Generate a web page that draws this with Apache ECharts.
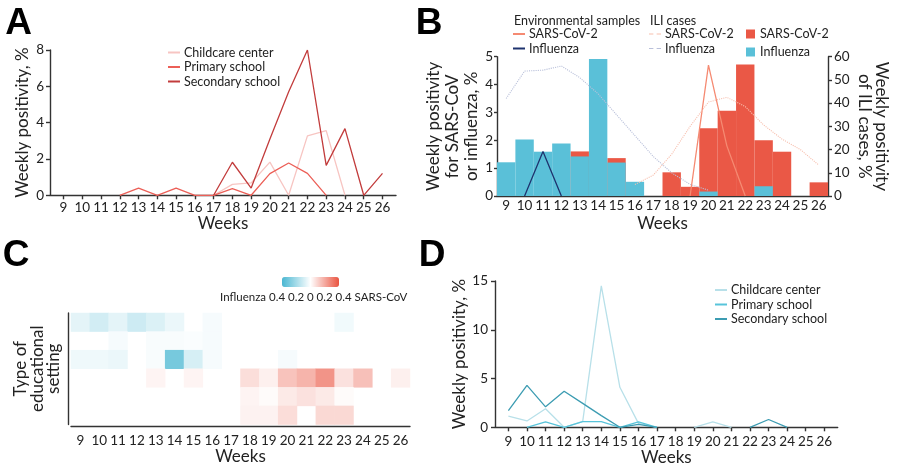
<!DOCTYPE html>
<html><head><meta charset="utf-8">
<script src="https://cdn.jsdelivr.net/npm/echarts@6/dist/echarts.min.js"></script>
<style>html,body{margin:0;padding:0;background:#fff}#c{width:900px;height:475px}</style>
</head><body><div id="c"></div>
<script>
// ---------- data ----------
const weeks = [9,10,11,12,13,14,15,16,17,18,19,20,21,22,23,24,25,26];
const weekLabels = weeks.map(String);

// Panel A: SARS-CoV-2 environmental positivity by setting (%)
const aChildcare = [null,null,null,null,null,null,null,null,0,0.6,0.68,1.83,0,3.27,3.56,0,null,null];
const aPrimary   = [null,null,null,0,0.4,0,0.4,0,0,0.37,0,1.19,1.78,1.21,0,null,null,null];
const aSecondary = [null,null,null,null,null,null,null,null,0,1.82,0.4,3.1,5.7,8.0,1.65,3.67,0,1.21];

// Panel B
const bBarSars = [null,null,null,null,1.6,null,1.36,null,null,0.85,0.33,2.43,3.06,4.72,2.0,1.59,null,0.49];
const bBarFlu  = [1.21,2.03,1.59,1.88,1.42,4.92,1.2,0.51,null,null,null,0.16,null,null,0.35,null,null,null];
const bEnvSars = [null,null,null,null,null,null,null,null,null,null,0,4.7,1.8,0,null,null,null,null];
const bEnvFlu  = [null,0,1.6,0,null,null,null,null,null,null,null,null,null,null,null,null,null,null];
const bIliSars = [null,null,null,null,null,null,null,5,9,18,30,40.5,42.5,38.5,30.6,24.5,20,13.3];
const bIliFlu  = [42,53.8,54.2,56,51,44,35,26,17,10,5,2.5,null,null,null,null,null,null];

// Panel C: heatmap rows (negative = influenza, positive = SARS-CoV)
const cRowNames = ['Row 1','Row 2','Row 3','Row 4','Row 5','Row 6'];
const cRow1 = [-0.06,-0.1,-0.06,-0.11,-0.08,-0.045,null,-0.02,null,null,null,null,null,null,-0.03,null,null,null];
const cRow2 = [null,null,-0.02,null,-0.015,-0.015,-0.01,-0.02,null,null,null,null,null,null,null,null,null,null];
const cRow3 = [-0.035,-0.035,-0.045,null,-0.015,-0.3,-0.09,-0.02,null,null,null,-0.02,null,null,null,null,null,null];
const cRow4 = [null,null,null,null,0.025,null,0.025,null,null,0.077,0.035,0.14,0.175,0.25,0.07,0.147,null,0.035];
const cRow5 = [null,null,null,null,null,null,null,null,null,0.025,0.01,0.05,0.07,0.05,0.01,null,null,null];
const cRow6 = [null,null,null,null,null,null,null,null,null,0.03,0.03,0.08,null,0.09,0.09,null,null,null];

// Panel D: influenza environmental positivity by setting (%)
const dChildcare = [1.15,0.65,1.9,0,0.6,14.5,4.1,0.4,0,null,0,0.55,0,null,null,null,null,null];
const dPrimary   = [null,0,0.55,0,0.58,0.58,0,0.55,0,null,null,null,null,null,null,null,null,null];
const dSecondary = [1.7,4.3,2.1,3.7,2.45,1.2,0,0.3,0,null,null,null,null,0,0.8,0,null,null];

const legendNames = {
  aChild:'Childcare center', aPrim:'Primary school', aSec:'Secondary school',
  dChild:'Childcare center', dPrim:'Primary school', dSec:'Secondary school',
  envSars:'SARS-CoV-2', envFlu:'Influenza', iliSars:'SARS-CoV-2', iliFlu:'Influenza',
  barSars:'SARS-CoV-2', barFlu:'Influenza'
};

// ---------- helpers ----------
const FONT = 'Lato';
const AX = {color:'#333', width:1.4};
const lbl = {color:'#222', fontSize:13.5, fontFamily:FONT};
const nm = {color:'#222', fontSize:17, fontFamily:FONT};
function pairs(arr){ return weeks.map((w,i)=> arr[i]==null ? [w,'-'] : [w,arr[i]]); }
function lineS(name, arr, color, xi, yi, extra){
  return Object.assign({type:'line', name, data: xi===1 ? arr.map(v=>v==null?'-':v) : pairs(arr),
    xAxisIndex:xi, yAxisIndex:yi, symbol:'none', smooth:false,
    lineStyle:{color, width:1.3}, itemStyle:{color}, emphasis:{disabled:true}}, extra||{});
}
function valueX(gi, margin, gap){
  return {type:'value', gridIndex:gi, min:8.28, max:26.72,
    axisLine:{show:true, onZero:false, lineStyle:AX},
    axisTick:{show:true, length:4, lineStyle:AX, customValues:weeks},
    axisLabel:Object.assign({margin:margin, customValues:weeks, formatter:v=>String(v)}, lbl),
    splitLine:{show:false},
    name:'Weeks', nameLocation:'middle', nameGap:gap, nameTextStyle:nm};
}
const heatData = [];
[cRow1,cRow2,cRow3,cRow4,cRow5,cRow6].forEach((row,r)=>row.forEach((v,i)=>{ if(v!=null) heatData.push([i,r,v]); }));

const legendBase = {orient:'vertical', itemGap:1.5, icon:'rect', itemWidth:12, itemHeight:2,
  formatter:n=>legendNames[n], textStyle:{fontSize:12.5, color:'#222', fontFamily:FONT, padding:[0,0,0,-1]},
  selectedMode:false, padding:0};
const letter = (t,x,y)=>({type:'text', x, y, style:{text:t, font:'bold 37px "Liberation Sans"', fill:'#000', align:'center', verticalAlign:'middle'}});

const option = {
  animation:false,
  textStyle:{fontFamily:FONT},
  grid:[
    {left:50, top:50, width:346, height:145.3},
    {left:497, top:56.7, width:331, height:139.3},
    {left:71, top:313, width:339, height:111.5},
    {left:495, top:281, width:342.7, height:146.3}
  ],
  xAxis:[
    valueX(0, 5, 18),
    {type:'category', gridIndex:1, data:weekLabels, boundaryGap:true,
     axisLine:{lineStyle:AX}, axisTick:{show:false}, axisLabel:Object.assign({margin:3, interval:0}, lbl),
     name:'Weeks', nameLocation:'middle', nameGap:19, nameTextStyle:nm},
    {type:'category', gridIndex:2, data:weekLabels, offset:2,
     axisLine:{lineStyle:AX}, axisTick:{show:false}, axisLabel:Object.assign({margin:7, interval:0}, lbl),
     name:'Weeks', nameLocation:'middle', nameGap:20, nameTextStyle:nm},
    valueX(3, 7, 21)
  ],
  yAxis:[
    {type:'value', gridIndex:0, min:0, max:8, interval:2,
     axisLine:{show:true, lineStyle:AX}, axisTick:{show:true, length:4, lineStyle:AX},
     axisLabel:Object.assign({margin:6}, lbl), splitLine:{show:false},
     name:'Weekly positivity, %', nameLocation:'middle', nameGap:19, nameTextStyle:nm},
    {type:'value', gridIndex:1, min:0, max:5, interval:1,
     axisLine:{show:true, lineStyle:AX}, axisTick:{show:true, length:3, lineStyle:AX},
     axisLabel:Object.assign({margin:4}, lbl), splitLine:{show:false},
     name:'Weekly positivity\nfor SARS-CoV\nor influenza, %', nameLocation:'middle', nameGap:15,
     nameTextStyle:Object.assign({lineHeight:19}, nm)},
    {type:'value', gridIndex:1, position:'right', min:0, max:60, interval:10,
     axisLine:{show:true, lineStyle:AX}, axisTick:{show:true, length:4, lineStyle:AX},
     axisLabel:Object.assign({margin:6}, lbl), splitLine:{show:false},
     name:'Weekly positivity\nof ILI cases, %', nameLocation:'middle', nameGap:28, nameRotate:-90,
     nameTextStyle:Object.assign({lineHeight:17}, nm)},
    {type:'category', gridIndex:2, data:cRowNames, inverse:true, offset:3,
     axisLine:{lineStyle:AX}, axisTick:{show:false}, axisLabel:{show:false},
     name:'Type of\neducational\nsetting', nameLocation:'middle', nameGap:6,
     nameTextStyle:Object.assign({lineHeight:16.5}, nm)},
    {type:'value', gridIndex:3, min:0, max:15, interval:5,
     axisLine:{show:true, lineStyle:AX}, axisTick:{show:true, length:4, lineStyle:AX},
     axisLabel:Object.assign({margin:7}, lbl), splitLine:{show:false},
     name:'Weekly positivity, %', nameLocation:'middle', nameGap:23, nameTextStyle:nm}
  ],
  legend:[
    Object.assign({}, legendBase, {left:168, top:46, data:['aChild','aPrim','aSec']}),
    Object.assign({}, legendBase, {left:513, top:27.5, data:['envSars','envFlu']}),
    Object.assign({}, legendBase, {left:649, top:27.5, data:['iliSars','iliFlu'],
      icon:'path://M0 0h4v1h-4z M7 0h4v1h-4z'}),
    Object.assign({}, legendBase, {left:746, top:27.5, data:['barSars','barFlu'], itemWidth:9, itemHeight:9, itemGap:5,
      textStyle:{fontSize:12.5, color:'#222', fontFamily:FONT}}),
    Object.assign({}, legendBase, {left:715, top:283.5, data:['dChild','dPrim','dSec']})
  ],
  visualMap:{type:'continuous', seriesIndex:9, min:-0.4, max:0.4, orient:'horizontal',
    left:282, top:277, itemWidth:10, itemHeight:57, calculable:false, hoverLink:false,
    showLabel:false, text:null, padding:0,
    inRange:{color:['#4ab7d2','#ffffff','#ea5440']}},
  graphic:[
    letter('A', 18.5, 23.5), letter('B', 429, 24), letter('C', 16, 255.5), letter('D', 432, 255.5),
    {type:'text', x:514, y:21, style:{text:'Environmental samples', font:'12.5px Lato', fill:'#222', verticalAlign:'middle'}},
    {type:'text', x:650, y:21, style:{text:'ILI cases', font:'12.5px Lato', fill:'#222', verticalAlign:'middle'}},
    {type:'text', x:220, y:297, style:{text:'Influenza 0.4 0.2 0 0.2 0.4 SARS-CoV', font:'11.5px Lato', fill:'#222', verticalAlign:'middle'}}
  ],
  series:[
    lineS('aChild', aChildcare, '#f7c5c2', 0, 0),
    lineS('aPrim', aPrimary, '#ec5f57', 0, 0),
    lineS('aSec', aSecondary, '#c23c3c', 0, 0),
    {type:'bar', name:'barSars', xAxisIndex:1, yAxisIndex:1, data:bBarSars.map(v=>v==null?'-':v),
     itemStyle:{color:'#ea5846'}, barCategoryGap:'0%', barGap:'-100%', emphasis:{disabled:true}},
    {type:'bar', name:'barFlu', xAxisIndex:1, yAxisIndex:1, data:bBarFlu.map(v=>v==null?'-':v),
     itemStyle:{color:'#5ac0d8'}, barCategoryGap:'0%', barGap:'-100%', emphasis:{disabled:true}},
    lineS('envSars', bEnvSars, '#f58a72', 1, 1),
    lineS('envFlu', bEnvFlu, '#1e336e', 1, 1),
    lineS('iliSars', bIliSars, '#f7bfae', 1, 2, {lineStyle:{color:'#f7bfae', width:1.1, type:'dotted'}}),
    lineS('iliFlu', bIliFlu, '#b9c0da', 1, 2, {lineStyle:{color:'#b9c0da', width:1.1, type:'dotted'}}),
    {type:'heatmap', name:'heat', xAxisIndex:2, yAxisIndex:3, data:heatData, emphasis:{disabled:true}},
    lineS('dChild', dChildcare, '#b8e0e9', 3, 4),
    lineS('dPrim', dPrimary, '#58c4da', 3, 4),
    lineS('dSec', dSecondary, '#3c9cb2', 3, 4)
  ]
};
const chart = echarts.init(document.getElementById('c'));
chart.setOption(option);
</script></body></html>
